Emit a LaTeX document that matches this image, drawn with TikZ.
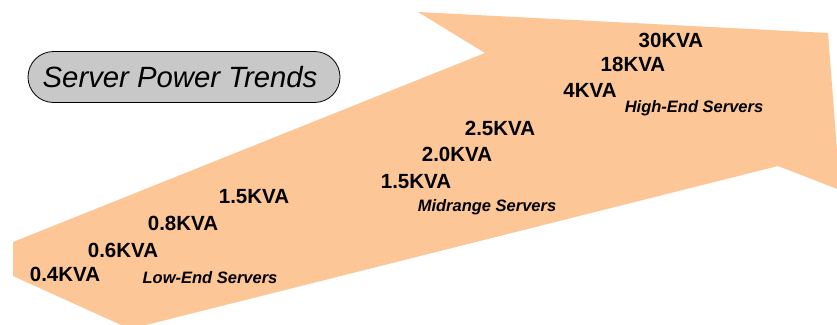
\documentclass[tikz,border=0pt]{standalone}
\usepackage{fontspec}
\setmainfont{Liberation Sans}
\usepackage{tikz}
\usetikzlibrary{shapes.misc}

\definecolor{peach}{RGB}{252,198,150}
\definecolor{pillgray}{RGB}{200,200,200}

\begin{document}
\begin{tikzpicture}[
        x=1pt, y=-1pt,
        title/.style={
            rounded rectangle,
            draw=black,
            thick,
            fill=pillgray,
            minimum width=312pt,
            minimum height=51pt,
            inner sep=0pt,
            font=\fontsize{29.3}{31}\selectfont\itshape
        },
        kva/.style={
            inner sep=0pt,
            font=\fontsize{20.5}{22}\selectfont\bfseries
        },
        tier/.style={
            inner sep=0pt,
            font=\fontsize{16.5}{18}\selectfont\bfseries\itshape
        }
    ]
    \useasboundingbox[fill=white] (0,0) rectangle (837,324);

    % Big growth arrow
    \begin{scope}
        \clip (0,0) rectangle (837,324);
        \fill[peach] (13,242) -- (485,53) -- (418,12) -- (828,33)
            -- (840,190) -- (778,166) -- (130,329) -- (13,276) -- cycle;
    \end{scope}

    % Title
    \node[title] (heading) at (184,77) {Server Power Trends\hspace*{8pt}};

    % Low-end servers
    \node[kva] (low1) at (65,274)  {0.4KVA};
    \node[kva] (low2) at (123,250) {0.6KVA};
    \node[kva] (low3) at (183,223) {0.8KVA};
    \node[kva] (low4) at (254,197) {1.5KVA};
    \node[tier] (lowend) at (210,278) {Low-End Servers};

    % Midrange servers
    \node[kva] (mid1) at (416,182) {1.5KVA};
    \node[kva] (mid2) at (457,154) {2.0KVA};
    \node[kva] (mid3) at (500,128) {2.5KVA};
    \node[tier] (midrange) at (487,207) {Midrange Servers};

    % High-end servers
    \node[kva] (high1) at (590,90) {4KVA};
    \node[kva] (high2) at (633,64) {18KVA};
    \node[kva] (high3) at (671,40) {30KVA};
    \node[tier] (highend) at (694,108) {High-End Servers};

\end{tikzpicture}
\end{document}
